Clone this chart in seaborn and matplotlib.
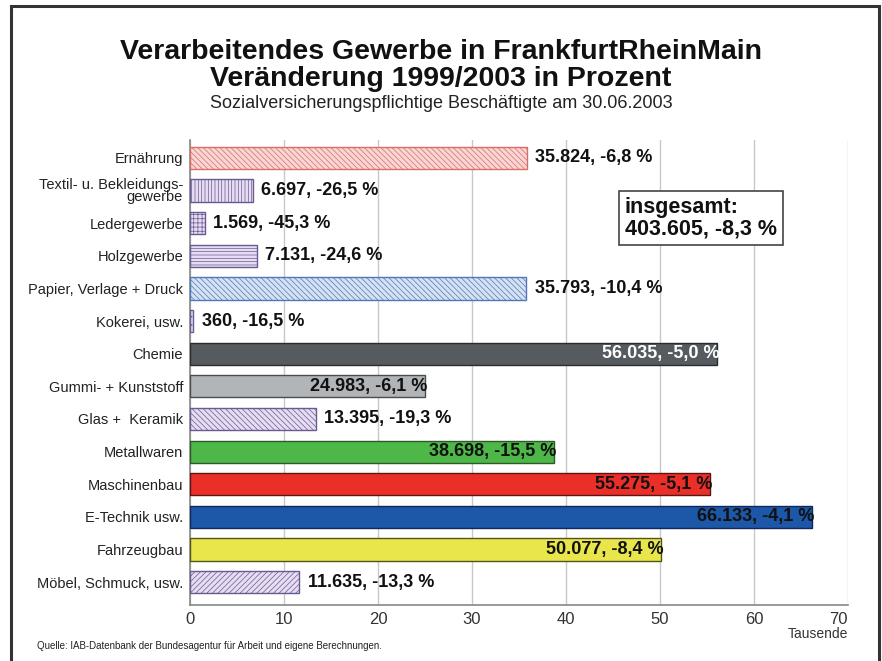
import matplotlib
matplotlib.use("Agg")
import matplotlib.pyplot as plt
import seaborn as sns
import pandas as pd

# Data: employees (subject to social insurance) on 30.06.2003 and change 1999/2003 in %
categories = [
    "Ernährung", "Textil- u. Bekleidungs-\ngewerbe", "Ledergewerbe", "Holzgewerbe",
    "Papier, Verlage + Druck", "Kokerei, usw.", "Chemie", "Gummi- + Kunststoff",
    "Glas +  Keramik", "Metallwaren", "Maschinenbau", "E-Technik usw.",
    "Fahrzeugbau", "Möbel, Schmuck, usw.",
]
employees = [35824, 6697, 1569, 7131, 35793, 360, 56035, 24983,
             13395, 38698, 55275, 66133, 50077, 11635]
change_pct = [-6.8, -26.5, -45.3, -24.6, -10.4, -16.5, -5.0, -6.1,
              -19.3, -15.5, -5.1, -4.1, -8.4, -13.3]
total_employees = 403605
total_change = -8.3

# Styles per bar
fills = ["#f9d6d3", "#e6ddf3", "#e6ddf3", "#e6ddf3", "#d5e2f3", "#e6ddf3", "#555b5e",
         "#b2b5b8", "#e6ddf3", "#4db748", "#ea2f28", "#1c57a8", "#e8e64a", "#e6ddf3"]
edges = ["#d96d68", "#6a5a90", "#6a5a90", "#6a5a90", "#5078b8", "#6a5a90", "#2a2d2f",
         "#4a4d50", "#6a5a90", "#2c5a28", "#5e1512", "#10295a", "#55541a", "#6a5a90"]
hatches = ["\\" * 6, "|" * 5, "++++", "-----", "\\" * 6, "....", None, None,
           "\\" * 6, None, None, None, None, "/" * 6]


def de_number(n):
    return f"{n:,}".replace(",", ".")


def de_pct(p):
    return f"{p:.1f}".replace(".", ",") + " %"


df = pd.DataFrame({"cat": categories, "val": [e / 1000 for e in employees]})

plt.rcParams["font.family"] = ["Liberation Sans", "DejaVu Sans"]
plt.rcParams["hatch.linewidth"] = 0.5

fig = plt.figure(figsize=(8.82, 6.61), dpi=100)
ax = fig.add_axes([190 / 882, 1 - 605 / 661, 658 / 882, 465 / 661])

sns.barplot(data=df, x="val", y="cat", hue="cat", palette=dict(zip(categories, fills)),
            saturation=1, legend=False, width=0.68, linewidth=1.0, ax=ax, zorder=3)

for i, cont in enumerate(ax.containers):
    for bar in cont:
        bar.set_edgecolor(edges[i])
        if hatches[i]:
            bar.set_hatch(hatches[i])

ax.set_xlim(0, 70)
ax.set_ylim(13.7, -0.55)
ax.set_xticks(range(0, 71, 10))
ax.xaxis.grid(True, color="#c8c8c8", linewidth=1.0, zorder=0)
ax.set_axisbelow(True)
ax.set_xlabel("")
ax.set_ylabel("")
for s in ["top", "right"]:
    ax.spines[s].set_visible(False)
for s in ["left", "bottom"]:
    ax.spines[s].set_color("#888888")
    ax.spines[s].set_linewidth(1.2)
ax.tick_params(axis="x", length=0, labelsize=12, colors="#333333", pad=5)
ax.tick_params(axis="y", length=0, labelsize=10.5, colors="#222222", pad=5)
for lab in ax.get_yticklabels():
    lab.set_linespacing(0.8)
for lab in ax.get_xticklabels():
    if lab.get_text() == "70":
        lab.set_horizontalalignment("right")
        lab.set_x(70)

# value labels
for i, (e, p) in enumerate(zip(employees, change_pct)):
    v = e / 1000
    txt = f"{de_number(e)}, {de_pct(p)}"
    if hatches[i] is None:
        color = "white" if categories[i] == "Chemie" else "#111111"
        ax.text(v + 0.3, i, txt, ha="right", va="center", fontsize=13,
                fontweight="bold", color=color, zorder=5)
    else:
        ax.text(v + 0.9, i, txt, ha="left", va="center", fontsize=13,
                fontweight="bold", color="#111111", zorder=5)

# total box
fig.text(625 / 882, 1 - 218 / 661, f"insgesamt:\n{de_number(total_employees)}, {de_pct(total_change)}",
         ha="left", va="center", fontsize=15.5, fontweight="bold", color="#111111",
         linespacing=1.0,
         bbox=dict(boxstyle="square,pad=0.3", facecolor="white", edgecolor="#444444",
                   linewidth=1.2))

# titles
fig.text(0.5, 1 - 52 / 661, "Verarbeitendes Gewerbe in FrankfurtRheinMain",
         ha="center", va="center", fontsize=20.5, fontweight="bold", color="#111111")
fig.text(0.5, 1 - 79 / 661, "Veränderung 1999/2003 in Prozent",
         ha="center", va="center", fontsize=20.5, fontweight="bold", color="#111111")
fig.text(0.5, 1 - 104 / 661, "Sozialversicherungspflichtige Beschäftigte am 30.06.2003",
         ha="center", va="center", fontsize=13, color="#222222")

fig.text(848 / 882, 1 - 634 / 661, "Tausende", ha="right", va="center",
         fontsize=10, color="#333333")
fig.text(37 / 882, 1 - 646 / 661,
         "Quelle: IAB-Datenbank der Bundesagentur für Arbeit und eigene Berechnungen.",
         ha="left", va="center", fontsize=7, color="#222222")

# outer frame
frame = plt.Rectangle((11 / 882, -0.05), (879 - 11) / 882, 1.05 - 6 / 661,
                      transform=fig.transFigure, fill=False, edgecolor="#333333",
                      linewidth=2.2)
fig.patches.append(frame)

fig.savefig("out.png", dpi=100)
